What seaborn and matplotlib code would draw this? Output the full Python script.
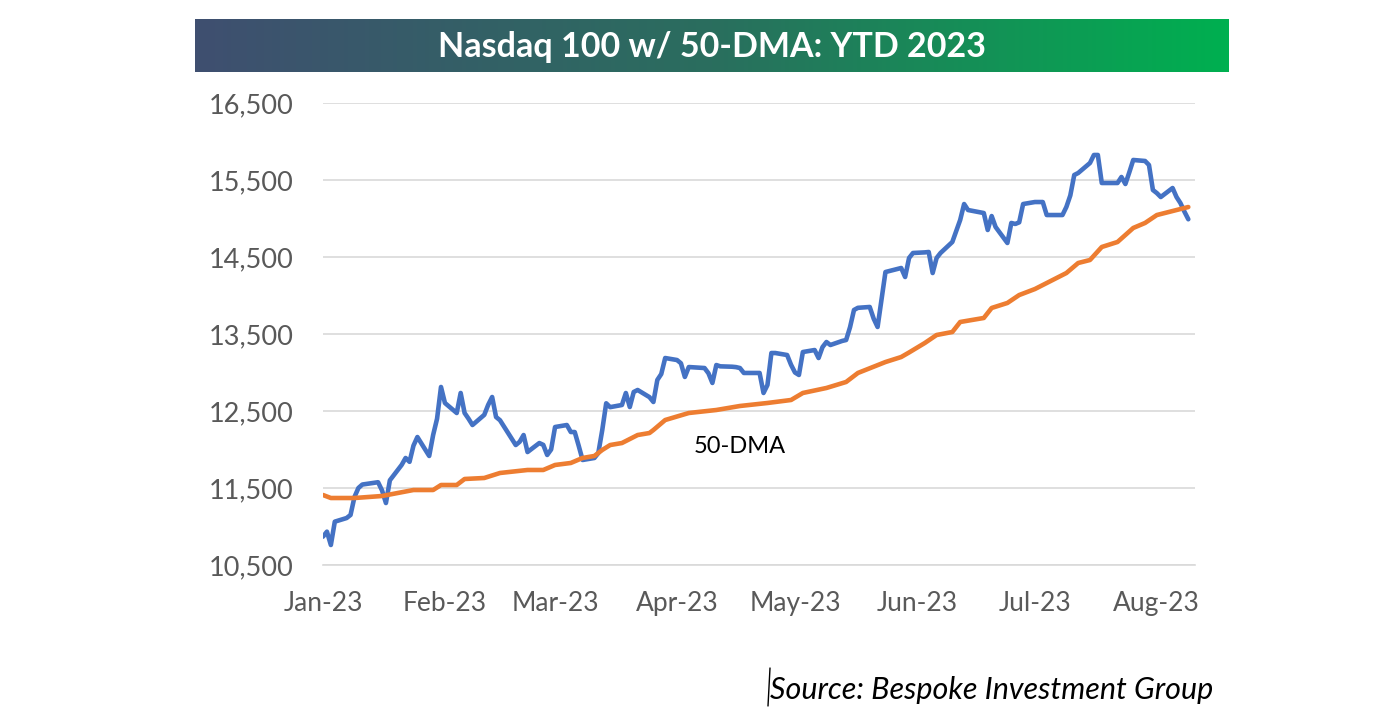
import numpy as np
import pandas as pd
import matplotlib
matplotlib.use("Agg")
import matplotlib.pyplot as plt
import matplotlib.dates as mdates
from matplotlib.colors import LinearSegmentedColormap
from matplotlib.ticker import FuncFormatter
import seaborn as sns

# Nasdaq 100 closes
ndx_dates = [
    "2023-01-03", "2023-01-04", "2023-01-05", "2023-01-06", "2023-01-09", "2023-01-10",
    "2023-01-11", "2023-01-12", "2023-01-13", "2023-01-17", "2023-01-18", "2023-01-19",
    "2023-01-20", "2023-01-23", "2023-01-24", "2023-01-25", "2023-01-26", "2023-01-27",
    "2023-01-30", "2023-01-31", "2023-02-01", "2023-02-02", "2023-02-03", "2023-02-06",
    "2023-02-07", "2023-02-08", "2023-02-09", "2023-02-10", "2023-02-13", "2023-02-14",
    "2023-02-15", "2023-02-16", "2023-02-17", "2023-02-21", "2023-02-22", "2023-02-23",
    "2023-02-24", "2023-02-27", "2023-02-28", "2023-03-01", "2023-03-02", "2023-03-03",
    "2023-03-06", "2023-03-07", "2023-03-08", "2023-03-09", "2023-03-10", "2023-03-13",
    "2023-03-14", "2023-03-15", "2023-03-16", "2023-03-17", "2023-03-20", "2023-03-21",
    "2023-03-22", "2023-03-23", "2023-03-24", "2023-03-27", "2023-03-28", "2023-03-29",
    "2023-03-30", "2023-03-31", "2023-04-03", "2023-04-04", "2023-04-05", "2023-04-06",
    "2023-04-10", "2023-04-11", "2023-04-12", "2023-04-13", "2023-04-14", "2023-04-17",
    "2023-04-18", "2023-04-19", "2023-04-20", "2023-04-21", "2023-04-24", "2023-04-25",
    "2023-04-26", "2023-04-27", "2023-04-28", "2023-05-01", "2023-05-02", "2023-05-03",
    "2023-05-04", "2023-05-05", "2023-05-08", "2023-05-09", "2023-05-10", "2023-05-11",
    "2023-05-12", "2023-05-15", "2023-05-16", "2023-05-17", "2023-05-18", "2023-05-19",
    "2023-05-22", "2023-05-23", "2023-05-24", "2023-05-25", "2023-05-26", "2023-05-30",
    "2023-05-31", "2023-06-01", "2023-06-02", "2023-06-05", "2023-06-06", "2023-06-07",
    "2023-06-08", "2023-06-09", "2023-06-12", "2023-06-13", "2023-06-14", "2023-06-15",
    "2023-06-16", "2023-06-20", "2023-06-21", "2023-06-22", "2023-06-23", "2023-06-26",
    "2023-06-27", "2023-06-28", "2023-06-29", "2023-06-30", "2023-07-03", "2023-07-05",
    "2023-07-06", "2023-07-07", "2023-07-10", "2023-07-11", "2023-07-12", "2023-07-13",
    "2023-07-14", "2023-07-17", "2023-07-18", "2023-07-19", "2023-07-20", "2023-07-21",
    "2023-07-24", "2023-07-25", "2023-07-26", "2023-07-27", "2023-07-28", "2023-07-31",
    "2023-08-01", "2023-08-02", "2023-08-03", "2023-08-04", "2023-08-07", "2023-08-08",
    "2023-08-09", "2023-08-10", "2023-08-11",
]
ndx_values = [
    10868, 10933, 10760, 11063, 11110, 11150,
    11383, 11500, 11545, 11575, 11470, 11305,
    11600, 11800, 11890, 11840, 12050, 12162,
    11916, 12188, 12400, 12812, 12604, 12474,
    12734, 12474, 12400, 12318, 12450, 12580,
    12682, 12422, 12380, 12058, 12100, 12188,
    11967, 12084, 12060, 11929, 12000, 12292,
    12318, 12227, 12227, 12050, 11864, 11890,
    11955, 12253, 12600, 12550, 12578, 12734,
    12552, 12747, 12773, 12680, 12617, 12903,
    12980, 13188, 13162, 13120, 12942, 13071,
    13058, 12990, 12864, 13097, 13080, 13075,
    13070, 13058, 12994, 12994, 12994, 12734,
    12838, 13253, 13253, 13227, 13100, 13000,
    12968, 13266, 13292, 13188, 13330, 13396,
    13357, 13410, 13422, 13589, 13812, 13840,
    13851, 13700, 13591, 13950, 14305, 14357,
    14240, 14487, 14552, 14560, 14565, 14292,
    14487, 14552, 14695, 14840, 14981, 15188,
    15110, 15071, 14851, 15032, 14890, 14682,
    14942, 14929, 14950, 15188, 15214, 15214,
    15045, 15045, 15045, 15150, 15300, 15565,
    15591, 15721, 15825, 15825, 15461, 15461,
    15461, 15539, 15448, 15600, 15760, 15747,
    15695, 15370, 15330, 15279, 15396, 15279,
    15200, 15090, 14990,
]

# 50-day moving average
dma_dates = [
    "2023-01-03", "2023-01-05", "2023-01-11", "2023-01-18", "2023-01-26", "2023-01-31",
    "2023-02-02", "2023-02-06", "2023-02-08", "2023-02-13", "2023-02-17", "2023-02-24",
    "2023-02-28", "2023-03-03", "2023-03-07", "2023-03-10", "2023-03-13", "2023-03-15",
    "2023-03-17", "2023-03-20", "2023-03-24", "2023-03-27", "2023-03-28", "2023-03-31",
    "2023-04-06", "2023-04-13", "2023-04-19", "2023-04-26", "2023-05-02", "2023-05-05",
    "2023-05-11", "2023-05-16", "2023-05-19", "2023-05-26", "2023-05-30", "2023-06-01",
    "2023-06-05", "2023-06-08", "2023-06-12", "2023-06-14", "2023-06-20", "2023-06-22",
    "2023-06-26", "2023-06-29", "2023-07-03", "2023-07-06", "2023-07-11", "2023-07-14",
    "2023-07-17", "2023-07-20", "2023-07-24", "2023-07-28", "2023-07-31", "2023-08-03",
    "2023-08-08", "2023-08-11",
]
dma_values = [
    11409, 11370, 11370, 11396, 11474, 11474,
    11539, 11539, 11617, 11630, 11695, 11734,
    11734, 11799, 11825, 11890, 11916, 11994,
    12058, 12084, 12188, 12214, 12253, 12383,
    12474, 12513, 12565, 12604, 12643, 12734,
    12799, 12877, 12994, 13136, 13201, 13260,
    13383, 13487, 13526, 13656, 13708, 13838,
    13903, 14006, 14084, 14162, 14292, 14422,
    14461, 14630, 14695, 14877, 14942, 15045,
    15110, 15149,
]

y_ticks = [10500, 11500, 12500, 13500, 14500, 15500, 16500]
title = "Nasdaq 100 w/ 50-DMA: YTD 2023"
source = "Source: Bespoke Investment Group"

ndx = pd.DataFrame({"date": pd.to_datetime(ndx_dates), "value": ndx_values})
dma = pd.DataFrame({"date": pd.to_datetime(dma_dates), "value": dma_values})

sns.set_style("white")
plt.rcParams["font.family"] = ["Lato", "DejaVu Sans"]

W, H = 1400, 723
fig = plt.figure(figsize=(W / 100, H / 100), dpi=100)
fig.patch.set_facecolor("white")

# plot area in pixel terms
left, right, top, bottom = 323, 1195, 103, 565
ax = fig.add_axes([left / W, 1 - bottom / H, (right - left) / W, (bottom - top) / H])

sns.lineplot(data=ndx, x="date", y="value", ax=ax, color="#4472c4", linewidth=3.3)
sns.lineplot(data=dma, x="date", y="value", ax=ax, color="#ed7d31", linewidth=3.3)

start = pd.Timestamp("2023-01-03")
ax.set_xlim(start, start + pd.Timedelta(days=221.7))
ax.set_ylim(10500, 16500)
ax.set_yticks(y_ticks)
ax.yaxis.set_major_formatter(FuncFormatter(lambda v, p: f"{int(v):,}"))
month_ticks = pd.date_range("2023-01-03", periods=8, freq=pd.DateOffset(months=1))
ax.set_xticks(month_ticks)
ax.xaxis.set_major_formatter(mdates.DateFormatter("%b-%y"))
ax.set_xlabel("")
ax.set_ylabel("")

ax.grid(axis="y", color="#d9d9d9", linewidth=1.2)
ax.set_axisbelow(True)
for s in ["top", "right", "left"]:
    ax.spines[s].set_visible(False)
ax.spines["bottom"].set_color("#d9d9d9")
ax.spines["bottom"].set_linewidth(1.2)
ax.tick_params(axis="y", length=0, pad=21, labelsize=19.5, labelcolor="#595959")
ax.tick_params(axis="x", length=7, width=1.2, color="#d9d9d9", pad=12,
               labelsize=19, labelcolor="#595959")

ax.text(pd.Timestamp("2023-04-19"), 12040, "50-DMA", fontsize=17, color="black",
        ha="center", va="center")

# gradient title banner
bx0, bx1, by0, by1 = 195, 1229, 19, 72
bax = fig.add_axes([bx0 / W, 1 - by1 / H, (bx1 - bx0) / W, (by1 - by0) / H])
cmap = LinearSegmentedColormap.from_list("banner", ["#3f4f70", "#2a6e5e", "#00b050"])
bax.imshow(np.linspace(0, 1, 256).reshape(1, -1), aspect="auto", cmap=cmap,
           extent=[0, 1, 0, 1])
bax.set_xlim(0, 1)
bax.set_ylim(0, 1)
bax.axis("off")
bax.text(0.5, 0.47, title, color="white", fontsize=24.5, fontweight="bold",
         ha="center", va="center")

fig.text(1213 / W, 1 - 690 / H, source, fontsize=22, style="italic",
         color="black", ha="right", va="center")
fig.add_artist(plt.Line2D([770 / W, 768 / W], [1 - 668 / H, 1 - 706 / H],
                          color="black", linewidth=1))

fig.savefig("out.png", dpi=100)
